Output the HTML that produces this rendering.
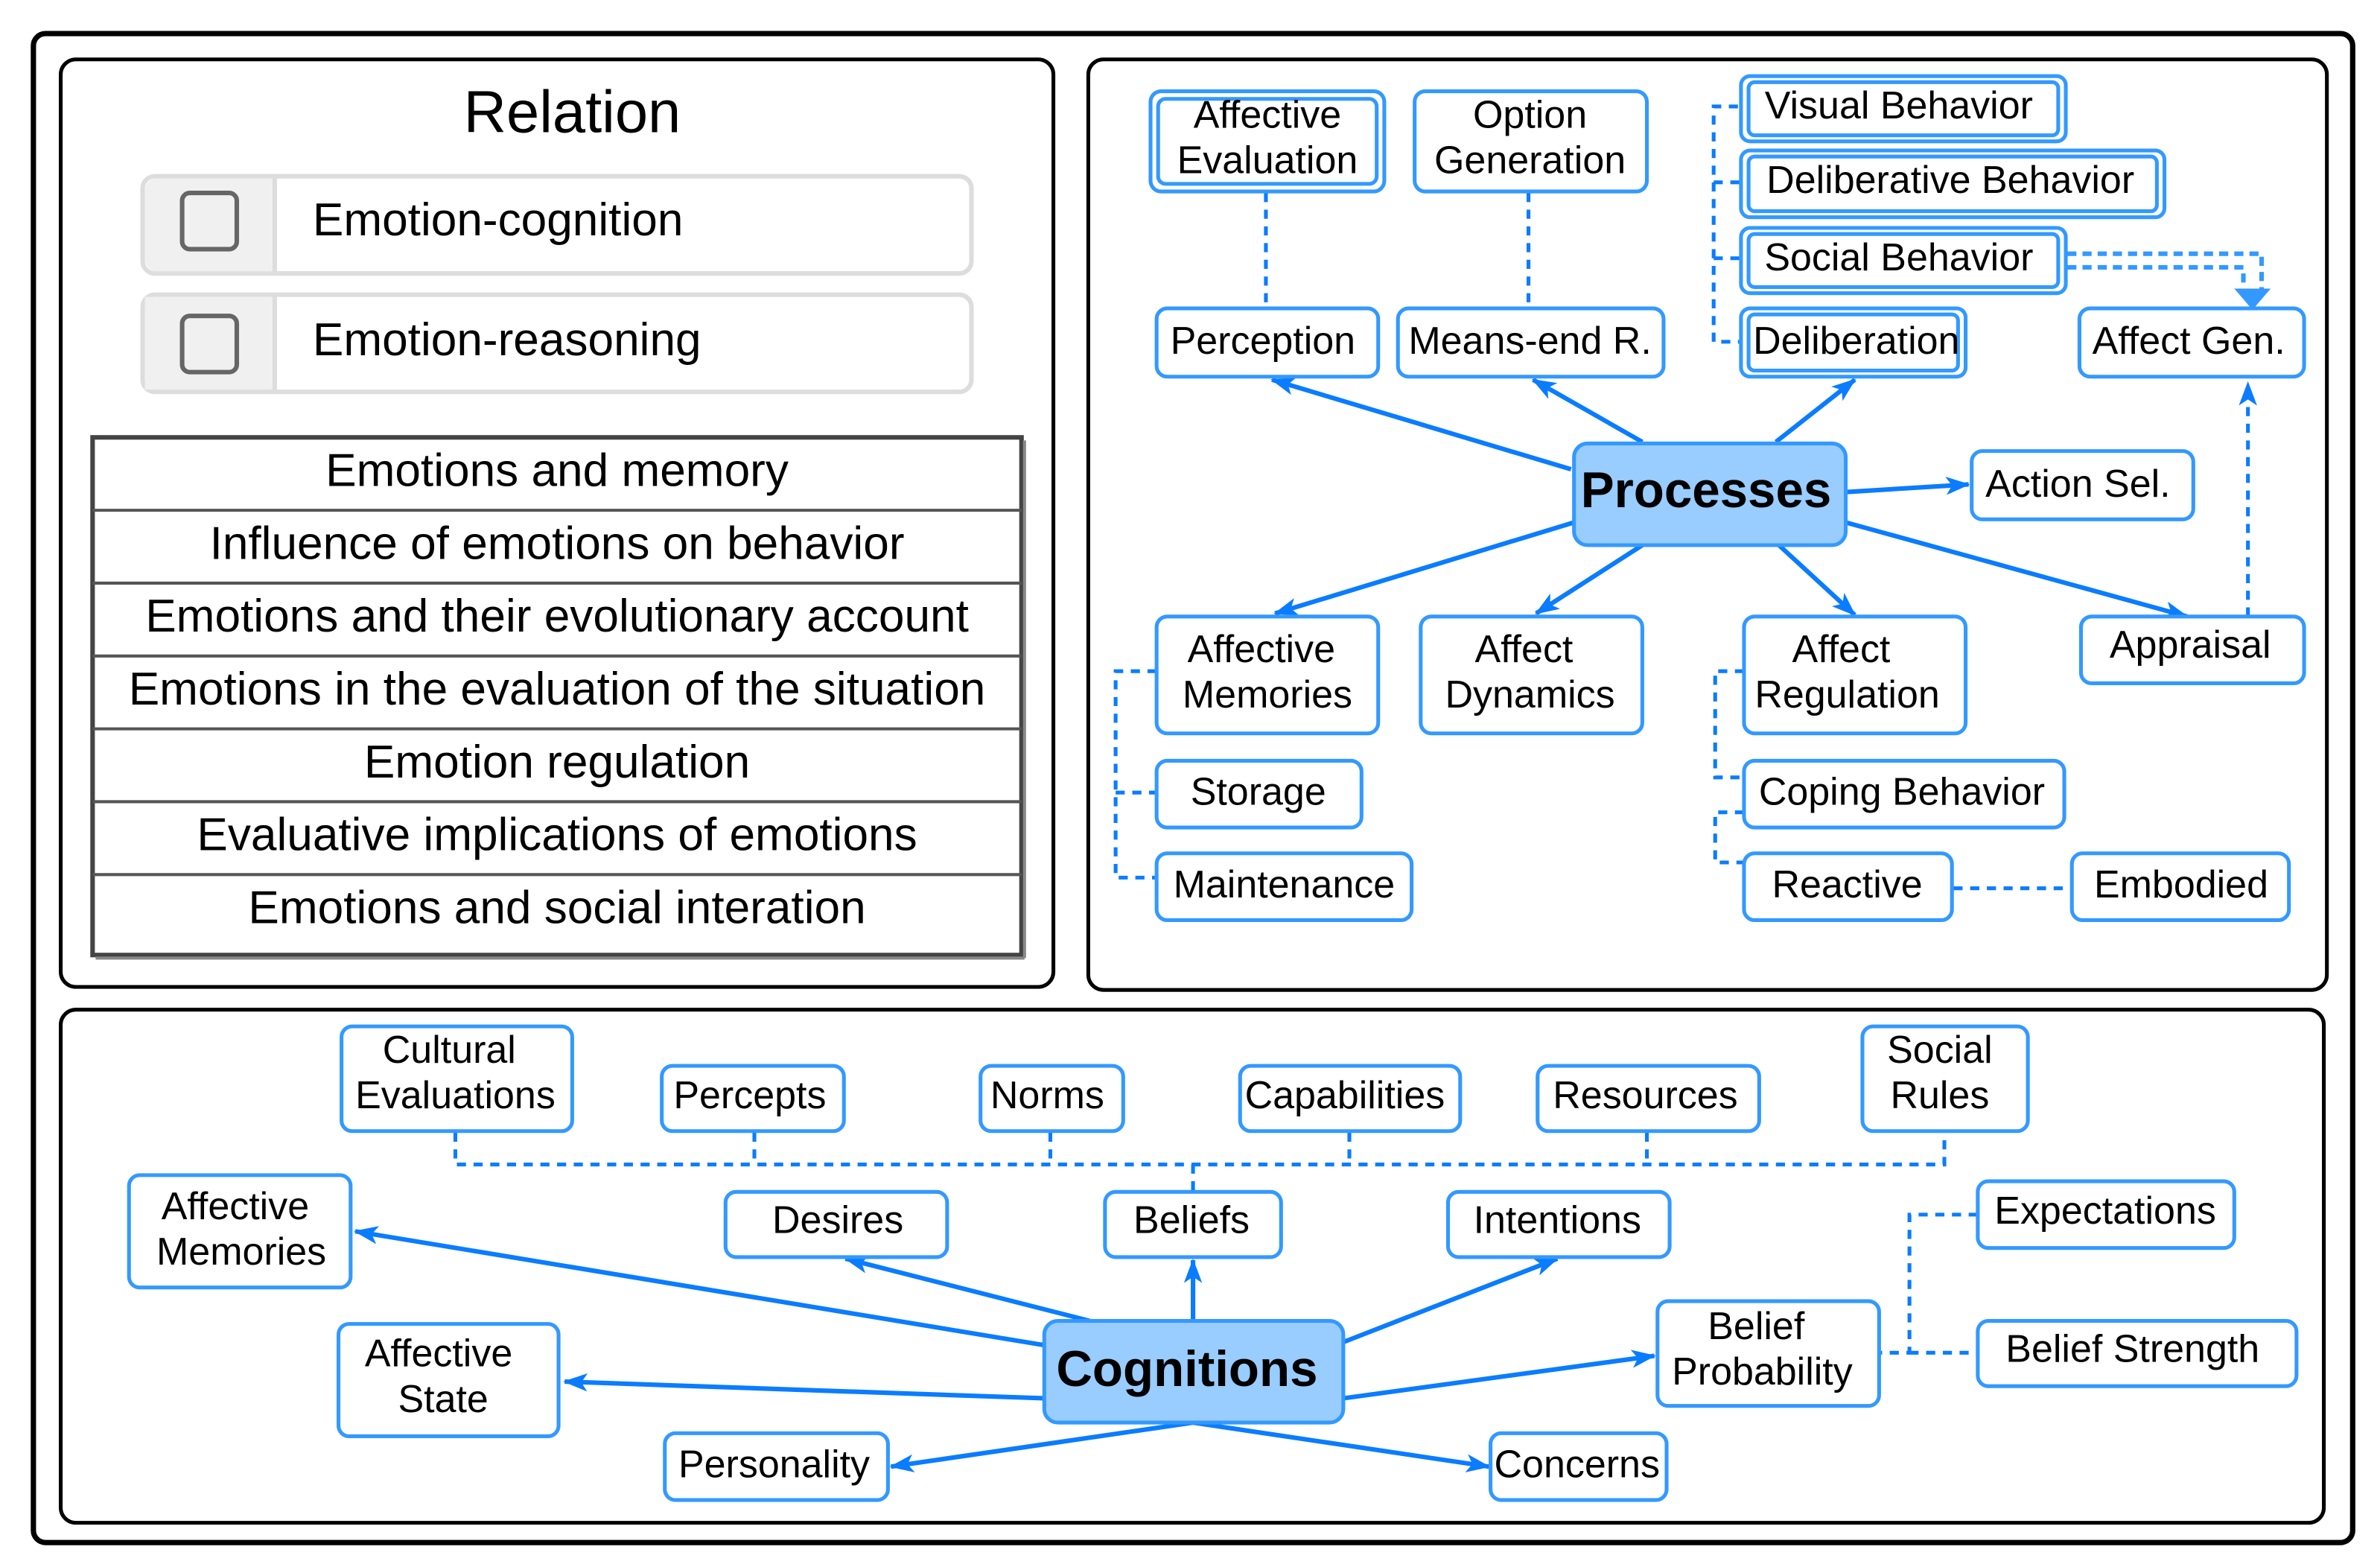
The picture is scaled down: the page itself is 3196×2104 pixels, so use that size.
<!DOCTYPE html>
<html><head><meta charset="utf-8"><style>html,body{margin:0;padding:0;background:#fff}svg{display:block}text{font-family:"Liberation Sans",sans-serif;fill:#000}</style></head>
<body>
<svg width="3196" height="2104" viewBox="0 0 1568 1032" xmlns="http://www.w3.org/2000/svg">
<defs>
<marker id="a" markerWidth="16" markerHeight="12" refX="15" refY="6" orient="auto" markerUnits="userSpaceOnUse"><path d="M0,0 L16,6 L0,12 L4,6 z" fill="#0a7cff"/></marker>
</defs>
<rect x="22" y="22" width="1528" height="994" rx="8" fill="#fff" stroke="#000" stroke-width="3.5"/>
<rect x="40" y="39" width="654" height="611" rx="10" fill="#fff" stroke="#000" stroke-width="2.5"/>
<rect x="717" y="39" width="816" height="613" rx="10" fill="#fff" stroke="#000" stroke-width="2.5"/>
<rect x="40" y="665" width="1491" height="338" rx="10" fill="#fff" stroke="#000" stroke-width="2.5"/>

<!-- left panel -->
<text x="377" y="87" font-size="39" text-anchor="middle">Relation</text>
<g>
<rect x="94" y="116" width="546" height="64" rx="8" fill="#fff" stroke="#ddd" stroke-width="3"/>
<path d="M102,117.5 H181 V178.5 H102 a8,8 0 0 1 -6.5,-8 V125.5 a8,8 0 0 1 6.5,-8z" fill="#f0f0f0"/>
<line x1="181" y1="116" x2="181" y2="180" stroke="#ddd" stroke-width="3"/>
<rect x="120" y="127" width="36" height="37" rx="5" fill="none" stroke="#666" stroke-width="3"/>
<text x="206" y="155" font-size="30.5">Emotion-cognition</text>
<rect x="94" y="194" width="546" height="64" rx="8" fill="#fff" stroke="#ddd" stroke-width="3"/>
<rect x="95.5" y="195.5" width="85" height="61" fill="#f0f0f0"/>
<line x1="181" y1="194" x2="181" y2="258" stroke="#ddd" stroke-width="3"/>
<rect x="120" y="208" width="36" height="37" rx="5" fill="none" stroke="#666" stroke-width="3"/>
<text x="206" y="234" font-size="30.5">Emotion-reasoning</text>
</g>
<rect x="61" y="288" width="612" height="341" fill="#fff" stroke="#444" stroke-width="3"/>
<line x1="675" y1="290" x2="675" y2="631" stroke="#888" stroke-width="2"/>
<line x1="63" y1="631" x2="675" y2="631" stroke="#888" stroke-width="2"/>
<g stroke="#555" stroke-width="2">
<line x1="61" y1="336" x2="673" y2="336"/><line x1="61" y1="384" x2="673" y2="384"/><line x1="61" y1="432" x2="673" y2="432"/><line x1="61" y1="480" x2="673" y2="480"/><line x1="61" y1="528" x2="673" y2="528"/><line x1="61" y1="576" x2="673" y2="576"/>
</g>
<g font-size="30.5" text-anchor="middle">
<text x="367" y="320">Emotions and memory</text>
<text x="367" y="368">Influence of emotions on behavior</text>
<text x="367" y="416">Emotions and their evolutionary account</text>
<text x="367" y="464">Emotions in the evaluation of the situation</text>
<text x="367" y="512">Emotion regulation</text>
<text x="367" y="560">Evaluative implications of emotions</text>
<text x="367" y="608">Emotions and social interation</text>
</g>

<!-- right panel connectors -->
<g stroke="#0a7cff" stroke-width="2.5" fill="none" stroke-dasharray="6,5">
<line x1="834" y1="127" x2="834" y2="203"/>
<line x1="1007" y1="127" x2="1007" y2="203"/>
<path d="M1145,70 H1129 V225 H1147 M1129,120 H1147 M1129,170 H1147"/>
<path d="M762,442 H735 V578 H762 M735,522 H762"/>
<path d="M1149,442 H1130 V512 H1149 M1149,535 H1130 V568 H1149"/>
<line x1="1287" y1="585" x2="1365" y2="585"/>
</g>
<g stroke="#3399ff" stroke-width="3" fill="none" stroke-dasharray="6,4">
<path d="M1362,167 H1490 V190"/>
<path d="M1362,176 H1478 V192"/>
</g>
<path d="M1472,190 L1496,190 L1484,204 z" fill="#3399ff"/>
<line x1="1481" y1="406" x2="1481" y2="252" stroke="#0a7cff" stroke-width="2.5" stroke-dasharray="6,5" marker-end="url(#a)"/>
<g stroke="#0a7cff" stroke-width="3" marker-end="url(#a)">
<line x1="1035" y1="309" x2="838" y2="250"/>
<line x1="1082" y1="291" x2="1010" y2="250"/>
<line x1="1170" y1="291" x2="1222" y2="250"/>
<line x1="1216" y1="324" x2="1297" y2="319"/>
<line x1="1037" y1="344" x2="840" y2="404"/>
<line x1="1082" y1="359" x2="1012" y2="404"/>
<line x1="1172" y1="359" x2="1222" y2="405"/>
<line x1="1216" y1="344" x2="1441" y2="406"/>
</g>

<!-- right panel nodes -->
<g fill="#fff" stroke="#3399ff" stroke-width="2.5">
<rect x="758" y="60" width="154" height="66" rx="7"/><rect x="763" y="65" width="144" height="56" rx="5"/>
<rect x="932" y="60" width="153" height="66" rx="7"/>
<rect x="1147" y="50" width="214" height="43" rx="6"/><rect x="1152" y="54" width="204" height="35" rx="4"/>
<rect x="1147" y="99" width="279" height="44" rx="6"/><rect x="1152" y="103" width="269" height="36" rx="4"/>
<rect x="1147" y="150" width="214" height="43" rx="6"/><rect x="1152" y="154" width="204" height="35" rx="4"/>
<rect x="1147" y="203" width="148" height="45" rx="6"/><rect x="1152" y="207" width="138" height="37" rx="4"/>
<rect x="762" y="203" width="146" height="45" rx="7"/>
<rect x="921" y="203" width="175" height="45" rx="7"/>
<rect x="1370" y="203" width="148" height="45" rx="7"/>
<rect x="1299" y="297" width="146" height="45" rx="7"/>
<rect x="762" y="406" width="146" height="77" rx="7"/>
<rect x="936" y="406" width="146" height="77" rx="7"/>
<rect x="1149" y="406" width="146" height="77" rx="7"/>
<rect x="1371" y="406" width="147" height="44" rx="7"/>
<rect x="762" y="501" width="135" height="44" rx="7"/>
<rect x="762" y="562" width="168" height="44" rx="7"/>
<rect x="1149" y="501" width="211" height="44" rx="7"/>
<rect x="1149" y="562" width="137" height="44" rx="7"/>
<rect x="1365" y="562" width="143" height="44" rx="7"/>
</g>
<rect x="1037" y="292" width="179" height="67" rx="9" fill="#99ccff" stroke="#3399ff" stroke-width="2.5"/>
<g font-size="25.5" text-anchor="middle">
<text x="835" y="84">Affective</text><text x="835" y="114">Evaluation</text>
<text x="1008" y="84">Option</text><text x="1008" y="114">Generation</text>
<text x="1251" y="78">Visual Behavior</text>
<text x="1285" y="127">Deliberative Behavior</text>
<text x="1251" y="178">Social Behavior</text>
<text x="1223" y="233">Deliberation</text>
<text x="832" y="233">Perception</text>
<text x="1008" y="233">Means-end R.</text>
<text x="1442" y="233">Affect Gen.</text>
<text x="1369" y="327">Action Sel.</text>
<text x="831" y="436">Affective</text><text x="835" y="466">Memories</text>
<text x="1004" y="436">Affect</text><text x="1008" y="466">Dynamics</text>
<text x="1213" y="436">Affect</text><text x="1217" y="466">Regulation</text>
<text x="1443" y="433">Appraisal</text>
<text x="829" y="530">Storage</text>
<text x="846" y="591">Maintenance</text>
<text x="1253" y="530">Coping Behavior</text>
<text x="1217" y="591">Reactive</text>
<text x="1437" y="591">Embodied</text>
<text x="1124" y="334" font-size="33" font-weight="bold">Processes</text>
</g>

<!-- bottom panel connectors -->
<g stroke="#0a7cff" stroke-width="2.5" fill="none" stroke-dasharray="6,5">
<path d="M300,746 V767 H1281 V746 M497,746 V767 M692,746 V767 M889,746 V767 M1085,746 V767 M786,767 V785"/>
<path d="M1303,800 H1258 V891 H1238 M1258,891 H1303"/>
</g>
<g stroke="#0a7cff" stroke-width="3" marker-end="url(#a)">
<line x1="688" y1="886" x2="234" y2="811"/>
<line x1="688" y1="921" x2="372" y2="910"/>
<line x1="718" y1="870" x2="557" y2="829"/>
<line x1="786" y1="870" x2="786" y2="830"/>
<line x1="885" y1="884" x2="1026" y2="829"/>
<line x1="885" y1="921" x2="1090" y2="893"/>
<line x1="786" y1="937" x2="587" y2="966"/>
<line x1="786" y1="937" x2="981" y2="966"/>
</g>
<g fill="#fff" stroke="#3399ff" stroke-width="2.5">
<rect x="225" y="676" width="152" height="69" rx="7"/>
<rect x="436" y="702" width="120" height="43" rx="7"/>
<rect x="646" y="702" width="94" height="43" rx="7"/>
<rect x="817" y="702" width="145" height="43" rx="7"/>
<rect x="1013" y="702" width="146" height="43" rx="7"/>
<rect x="1227" y="676" width="109" height="69" rx="7"/>
<rect x="85" y="774" width="146" height="74" rx="7"/>
<rect x="478" y="785" width="146" height="43" rx="7"/>
<rect x="728" y="785" width="116" height="43" rx="7"/>
<rect x="954" y="785" width="146" height="43" rx="7"/>
<rect x="1303" y="778" width="169" height="44" rx="7"/>
<rect x="223" y="872" width="145" height="74" rx="7"/>
<rect x="1092" y="857" width="146" height="69" rx="7"/>
<rect x="1303" y="870" width="210" height="43" rx="7"/>
<rect x="438" y="944" width="147" height="44" rx="7"/>
<rect x="982" y="944" width="116" height="44" rx="7"/>
</g>
<rect x="688" y="870" width="197" height="67" rx="9" fill="#99ccff" stroke="#3399ff" stroke-width="2.5"/>
<g font-size="25.5" text-anchor="middle">
<text x="296" y="700">Cultural</text><text x="300" y="730">Evaluations</text>
<text x="494" y="730">Percepts</text>
<text x="690" y="730">Norms</text>
<text x="886" y="730">Capabilities</text>
<text x="1084" y="730">Resources</text>
<text x="1278" y="700">Social</text><text x="1278" y="730">Rules</text>
<text x="155" y="803">Affective</text><text x="159" y="833">Memories</text>
<text x="552" y="812">Desires</text>
<text x="785" y="812">Beliefs</text>
<text x="1026" y="812">Intentions</text>
<text x="1387" y="806">Expectations</text>
<text x="289" y="900">Affective</text><text x="292" y="930">State</text>
<text x="1157" y="882">Belief</text><text x="1161" y="912">Probability</text>
<text x="1405" y="897">Belief Strength</text>
<text x="510" y="973">Personality</text>
<text x="1039" y="973">Concerns</text>
<text x="782" y="913" font-size="33" font-weight="bold">Cognitions</text>
</g>
</svg>
</body></html>
